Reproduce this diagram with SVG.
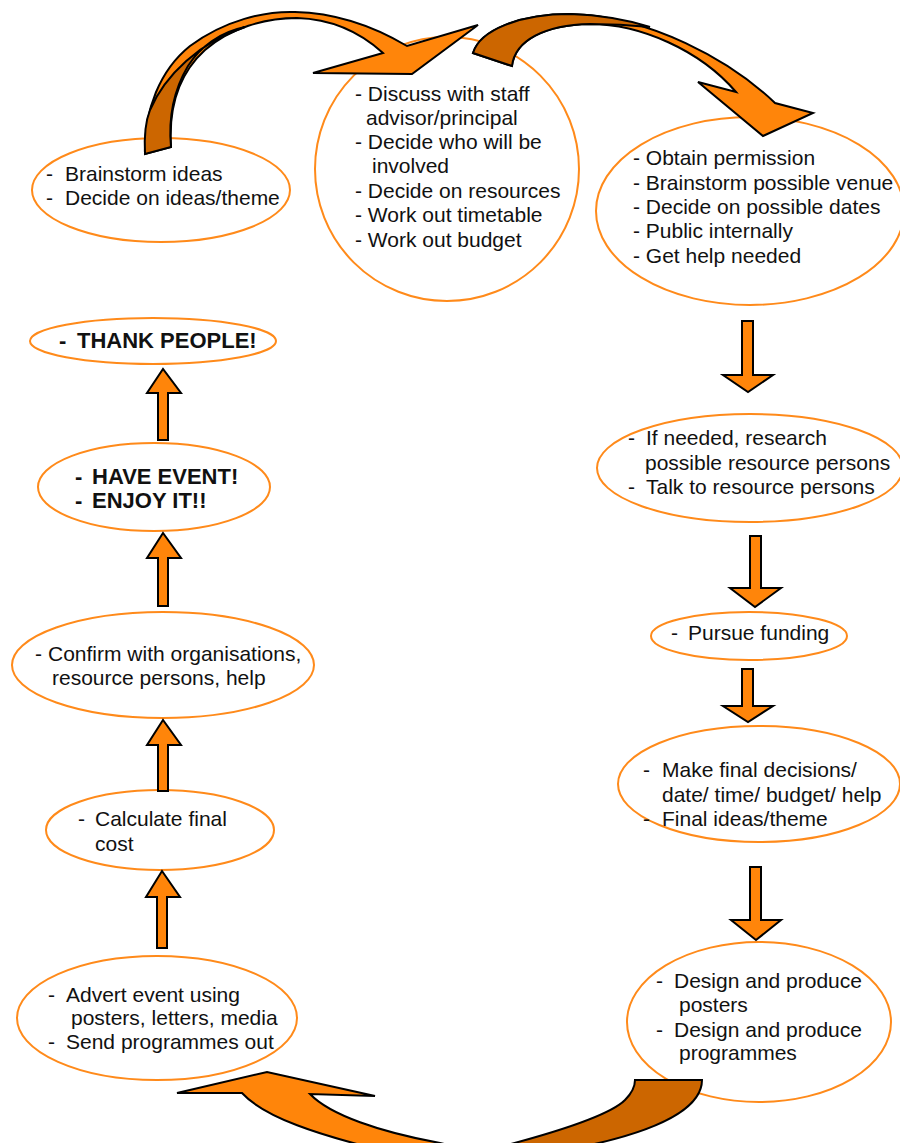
<svg xmlns="http://www.w3.org/2000/svg" width="900" height="1143" viewBox="0 0 900 1143">
<style>
.n{fill:#fff;stroke:#FF8A1A;stroke-width:2}
.t{font-family:"Liberation Sans",Arial,sans-serif;font-size:21px;fill:#111}
.b{font-weight:bold;font-size:22px}
.a{fill:#FF850A;stroke:#000;stroke-width:2;stroke-linejoin:miter}
.d{fill:#CC6600;stroke:#000;stroke-width:2;stroke-linejoin:miter}
</style>
<rect width="900" height="1143" fill="#fff"/>
<g id="n1"><ellipse class="n" cx="161" cy="190" rx="129" ry="52"/>
<text class="t"><tspan x="46" y="181">-</tspan><tspan x="65" y="181">Brainstorm ideas</tspan><tspan x="46" y="205">-</tspan><tspan x="65" y="205">Decide on ideas/theme</tspan></text></g>
<g id="n2"><ellipse class="n" cx="447" cy="169" rx="132" ry="132"/>
<text class="t"><tspan x="355" y="101">- Discuss with staff</tspan><tspan x="366" y="125">advisor/principal</tspan><tspan x="355" y="149">- Decide who will be</tspan><tspan x="372" y="173">involved</tspan><tspan x="355" y="198">- Decide on resources</tspan><tspan x="355" y="222">- Work out timetable</tspan><tspan x="355" y="247">- Work out budget</tspan></text></g>
<g id="n3"><ellipse class="n" cx="750" cy="211" rx="154" ry="94"/>
<text class="t"><tspan x="633" y="165">- Obtain permission</tspan><tspan x="633" y="190">- Brainstorm possible venue</tspan><tspan x="633" y="214">- Decide on possible dates</tspan><tspan x="633" y="238">- Public internally</tspan><tspan x="633" y="263">- Get help needed</tspan></text></g>
<g id="n4"><ellipse class="n" cx="750" cy="468" rx="153" ry="54"/>
<text class="t"><tspan x="628" y="445">-</tspan><tspan x="646" y="445">If needed, research</tspan><tspan x="645" y="470">possible resource persons</tspan><tspan x="628" y="494">-</tspan><tspan x="646" y="494">Talk to resource persons</tspan></text></g>
<g id="n5"><ellipse class="n" cx="749" cy="636" rx="98" ry="24"/>
<text class="t"><tspan x="671" y="640">-</tspan><tspan x="688" y="640">Pursue funding</tspan></text></g>
<g id="n6"><ellipse class="n" cx="759" cy="784" rx="141" ry="58"/>
<text class="t"><tspan x="643" y="777">-</tspan><tspan x="662" y="777">Make final decisions/</tspan><tspan x="662" y="802">date/ time/ budget/ help</tspan><tspan x="643" y="826">-</tspan><tspan x="662" y="826">Final ideas/theme</tspan></text></g>
<g id="n7"><ellipse class="n" cx="759" cy="1022" rx="132" ry="80"/>
<text class="t"><tspan x="656" y="988">-</tspan><tspan x="674" y="988">Design and produce</tspan><tspan x="679" y="1012">posters</tspan><tspan x="656" y="1037">-</tspan><tspan x="674" y="1037">Design and produce</tspan><tspan x="679" y="1060">programmes</tspan></text></g>
<g id="n8"><ellipse class="n" cx="157" cy="1018" rx="140" ry="62"/>
<text class="t"><tspan x="48" y="1002">-</tspan><tspan x="66" y="1002">Advert event using</tspan><tspan x="71" y="1025">posters, letters, media</tspan><tspan x="48" y="1049">-</tspan><tspan x="66" y="1049">Send programmes out</tspan></text></g>
<g id="n9"><ellipse class="n" cx="160" cy="830" rx="114" ry="40"/>
<text class="t"><tspan x="78" y="826">-</tspan><tspan x="95" y="826">Calculate final</tspan><tspan x="95" y="851">cost</tspan></text></g>
<g id="n10"><ellipse class="n" cx="163" cy="665" rx="151" ry="53"/>
<text class="t"><tspan x="35" y="661">-</tspan><tspan x="48" y="661">Confirm with organisations,</tspan><tspan x="52" y="685">resource persons, help</tspan></text></g>
<g id="n11"><ellipse class="n" cx="154" cy="487" rx="116" ry="44"/>
<text class="t b"><tspan x="75" y="484">-</tspan><tspan x="92" y="484">HAVE EVENT!</tspan><tspan x="75" y="508">-</tspan><tspan x="92" y="508">ENJOY IT!!</tspan></text></g>
<g id="n12"><ellipse class="n" cx="153" cy="341" rx="123" ry="23"/>
<text class="t b"><tspan x="59" y="348">-</tspan><tspan x="77" y="348">THANK PEOPLE!</tspan></text></g>
<g id="connectors">
<path class="a" d="M742,321 H753 V375 H773 L748,392 L723,375 H742 Z"/>
<path class="a" d="M750,536 H761 V588 H781 L755,607 L730,588 H750 Z"/>
<path class="a" d="M742,669 H753 V706 H773 L748,722 L723,706 H742 Z"/>
<path class="a" d="M750,867 H761 V920 H781 L756,940 L731,920 H750 Z"/>
<path class="a" d="M158,440 V393 H147 L163,369 L181,393 H168 V440 Z"/>
<path class="a" d="M158,606 V558 H147 L163,533 L181,558 H168 V606 Z"/>
<path class="a" d="M158,791 V745 H147 L163,720 L181,745 H168 V791 Z"/>
<path class="a" d="M157,948 V897 H146 L162,871 L180,897 H167 V948 Z"/>
<path class="a" d="M145,154 C144,110 160,70 190,46 C225,20 265,11 295,12 C340,13 380,30 407,46 L478,25 L412,74 L313,73 L383,53 C360,32 330,19 297,18 C265,18 230,28 205,50 C183,70 168,100 171,147 Z"/>
<path class="d" d="M145,154 C144,135 146,120 150,110 C165,75 200,42 245,27 C220,32 200,47 188,66 C175,88 168,115 171,147 Z"/>
<path class="a" d="M473,53 C480,30 520,14 570,14 C650,16 730,60 775,103 L813,113 L763,136 L698,82 L736,92 C700,50 640,24 590,24 C545,25 515,40 512,66 Z"/>
<path class="d" d="M473,53 C480,30 520,14 570,14 C600,15 625,19 650,27 C630,25 610,24 590,24 C545,25 515,40 512,66 Z"/>
<path class="a" d="M177,1093 L267,1072 L375,1096 L310,1094 C330,1115 380,1132 440,1143 L470,1150 L380,1150 C320,1135 265,1118 242,1093 Z"/>
<path class="d" d="M635,1080 L702,1080 C702,1100 680,1125 590,1145 L480,1152 C560,1132 610,1115 625,1100 C632,1093 635,1087 635,1080 Z"/>
</g>
</svg>
